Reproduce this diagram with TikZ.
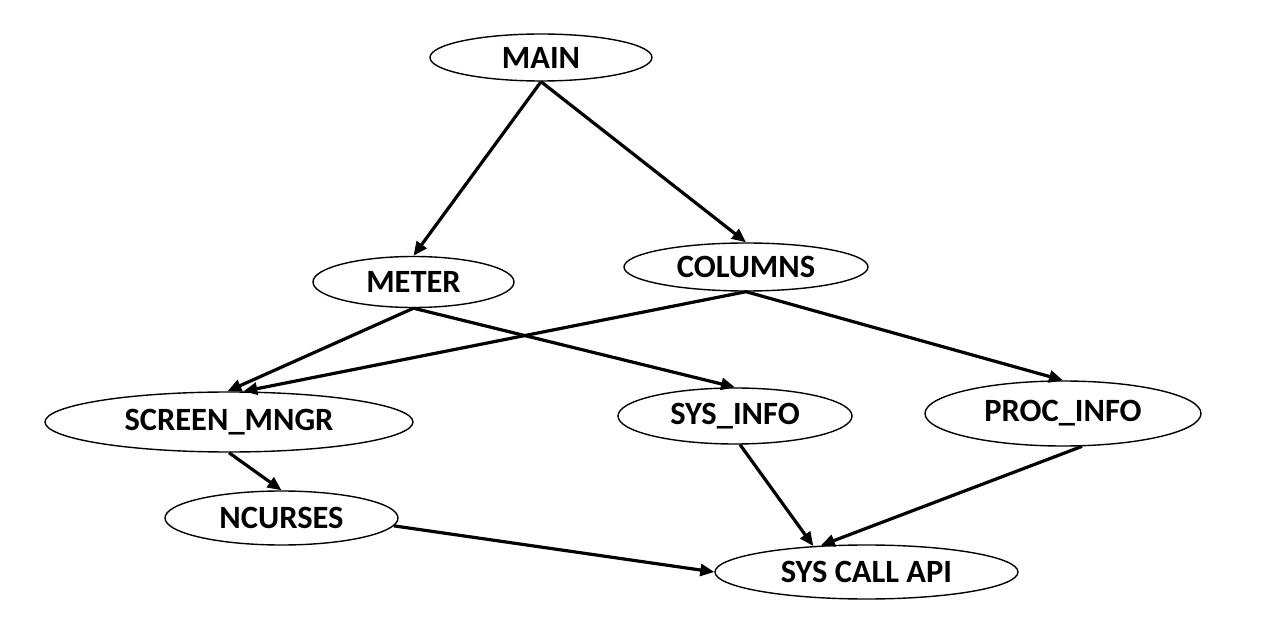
\documentclass[tikz,border=0pt]{standalone}
\usepackage{fontspec}
\setmainfont{Carlito}
\usetikzlibrary{shapes.geometric,arrows.meta}
\newcommand\zw[1]{\makebox[0pt]{#1}}
\begin{document}
\begin{tikzpicture}[x=1pt,y=-1pt,
  mod/.style={ellipse, draw=black, line width=1.4pt, inner sep=0pt,
    font=\fontsize{32.5}{32.5}\selectfont\bfseries},
  call/.style={line width=3.2pt, -{Triangle[length=14pt,width=12pt]}}]
\useasboundingbox (0,0) rectangle (1262,620);
\node[mod, minimum width=222pt, minimum height=47pt] (main) at (541,57.5) {\zw{MAIN}};
\node[mod, minimum width=201pt, minimum height=51pt] (meter) at (413.5,282) {\zw{METER}};
\node[mod, minimum width=244pt, minimum height=48pt] (columns) at (746,267) {\zw{COLUMNS}};
\node[mod, minimum width=368pt, minimum height=60pt] (screen) at (229,422) {\zw{SCREEN\_MNGR}};
\node[mod, minimum width=234pt, minimum height=56pt] (sysinfo) at (735,416) {\zw{SYS\_INFO}};
\node[mod, minimum width=276pt, minimum height=65pt] (procinfo) at (1063,413.5) {\zw{PROC\_INFO}};
\node[mod, minimum width=233pt, minimum height=54pt] (ncurses) at (281.5,518) {\zw{NCURSES}};
\node[mod, minimum width=303pt, minimum height=54pt] (syscall) at (866.5,572) {\zw{SYS CALL API}};
\draw[call] (main.south) -- (meter.north);
\draw[call] (main.south) -- (columns.north);
\draw[call] (meter.south) -- (screen.93);
\draw[call] (meter.south) -- (sysinfo.north);
\draw[call] (columns.south) -- (screen.65);
\draw[call] (columns.south) -- (procinfo.north);
\draw[call] (screen.south) -- (ncurses.north);
\draw[call] (sysinfo.-80) -- (syscall.154);
\draw[call] (procinfo.-60) -- (syscall.150);
\draw[call] (ncurses.-4) -- (syscall.west);
\end{tikzpicture}
\end{document}
